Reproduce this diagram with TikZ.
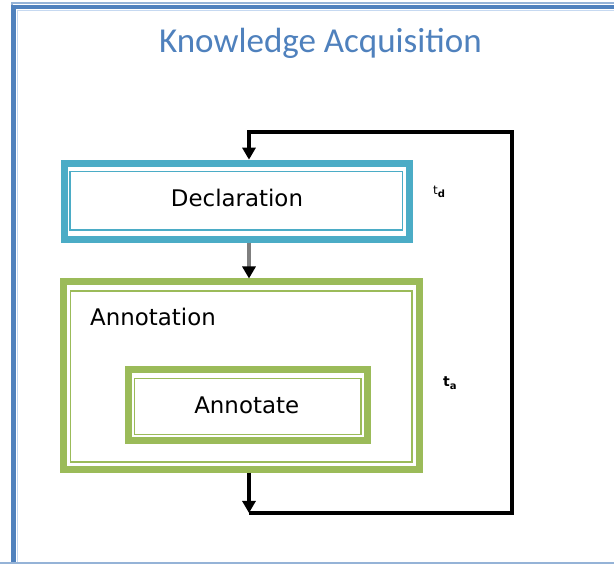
\documentclass[tikz,border=0pt]{standalone}
\usepackage{fontspec}
\newfontfamily\titlefont{Carlito}
\newfontfamily\boxfont{DejaVu Sans}
\usetikzlibrary{arrows.meta}
\definecolor{frameblue}{HTML}{4F81BD}
\definecolor{framelight}{HTML}{C6D9F1}
\definecolor{framemid}{HTML}{95B3D7}
\definecolor{declblue}{HTML}{4BACC6}
\definecolor{annotgreen}{HTML}{9BBB59}
\definecolor{arrowgray}{HTML}{7F7F7F}
\tikzset{
  band/.style={draw=#1, line width=7pt, inner sep=0pt, outer sep=3.5pt},
  thinbox/.style={draw=#1, line width=1.5pt, inner sep=0pt},
  boxtext/.style={font=\boxfont\fontsize{22.9}{26}\selectfont, inner sep=0pt},
  flow/.style={line width=3.3pt, black},
  flowarrow/.style={flow, -{Triangle[length=12pt,width=13pt]}},
  timelabel/.style={font=\boxfont\fontsize{12}{14}\selectfont, inner sep=0pt, anchor=base west},
}
\begin{document}
\begin{tikzpicture}[x=1pt,y=1pt]
\useasboundingbox (0,0) rectangle (614,564);
\clip (0,0) rectangle (614,564);
\fill[white] (0,0) rectangle (614,564);
% frame
\draw[framemid, line width=2pt] (12,561) rectangle (660,-10);
\draw[frameblue, line width=4.5pt] (13.7,557) rectangle (660,-2);
\draw[framelight, line width=1.8pt] (17.5,553.5) rectangle (660,1.5);
\draw[framemid, line width=2pt] (0,1) -- (660,1);
% title
\node[font=\titlefont\fontsize{35}{40}\selectfont, text=frameblue, anchor=base, inner sep=0pt] (title) at (320.5,511) {Knowledge Acquisition};
% Declaration
\node[band=declblue, minimum width=345.1pt, minimum height=76pt] (declO) at (236.75,362.8) {};
\node[thinbox=declblue, minimum width=332.7pt, minimum height=58.7pt] (decl) at (236.2,363.1) {};
\node[boxtext, anchor=base] (decltext) at (237,357.3) {Declaration};
% Annotation
\node[band=annotgreen, minimum width=355.4pt, minimum height=187.2pt] (annotO) at (241.5,188.4) {};
\node[thinbox=annotgreen, minimum width=341.9pt, minimum height=171pt] (annot) at (241.25,187.3) {};
\node[boxtext, anchor=base west] (annottext) at (90,238) {Annotation};
% Annotate
\node[band=annotgreen, minimum width=238.3pt, minimum height=70.7pt] (annotateO) at (247.85,158.65) {};
\node[thinbox=annotgreen, minimum width=226.7pt, minimum height=56pt] (annotate) at (247.85,157.5) {};
\node[boxtext, anchor=base] (annotatetext) at (246.7,150) {Annotate};
% loop coordinates
\coordinate (tl) at (249,432);
\coordinate (tr) at (512,432);
\coordinate (br) at (512,51);
\coordinate (bl) at (249,51);
% connectors
\draw[flow, line cap=rect] (br) -- (tr) -- (tl);
\draw[flowarrow] (tl) -- (tl |- declO.north);
\draw[line width=3.5pt, arrowgray, -{Triangle[length=12pt,width=13pt,color=black]}] (tl |- declO.south) -- (tl |- annotO.north);
\draw[flow] (br) -- (bl);
\draw[flowarrow] (tl |- annotO.south) -- (bl);
% time labels
\node[timelabel] (td) at (433,369) {t\raisebox{-2.5pt}{\bfseries\fontsize{10}{11}\selectfont d}};
\node[timelabel, font=\boxfont\bfseries\fontsize{14}{16}\selectfont] (ta) at (443,177) {t\raisebox{-2.5pt}{\fontsize{10}{11}\selectfont a}};
\end{tikzpicture}
\end{document}
